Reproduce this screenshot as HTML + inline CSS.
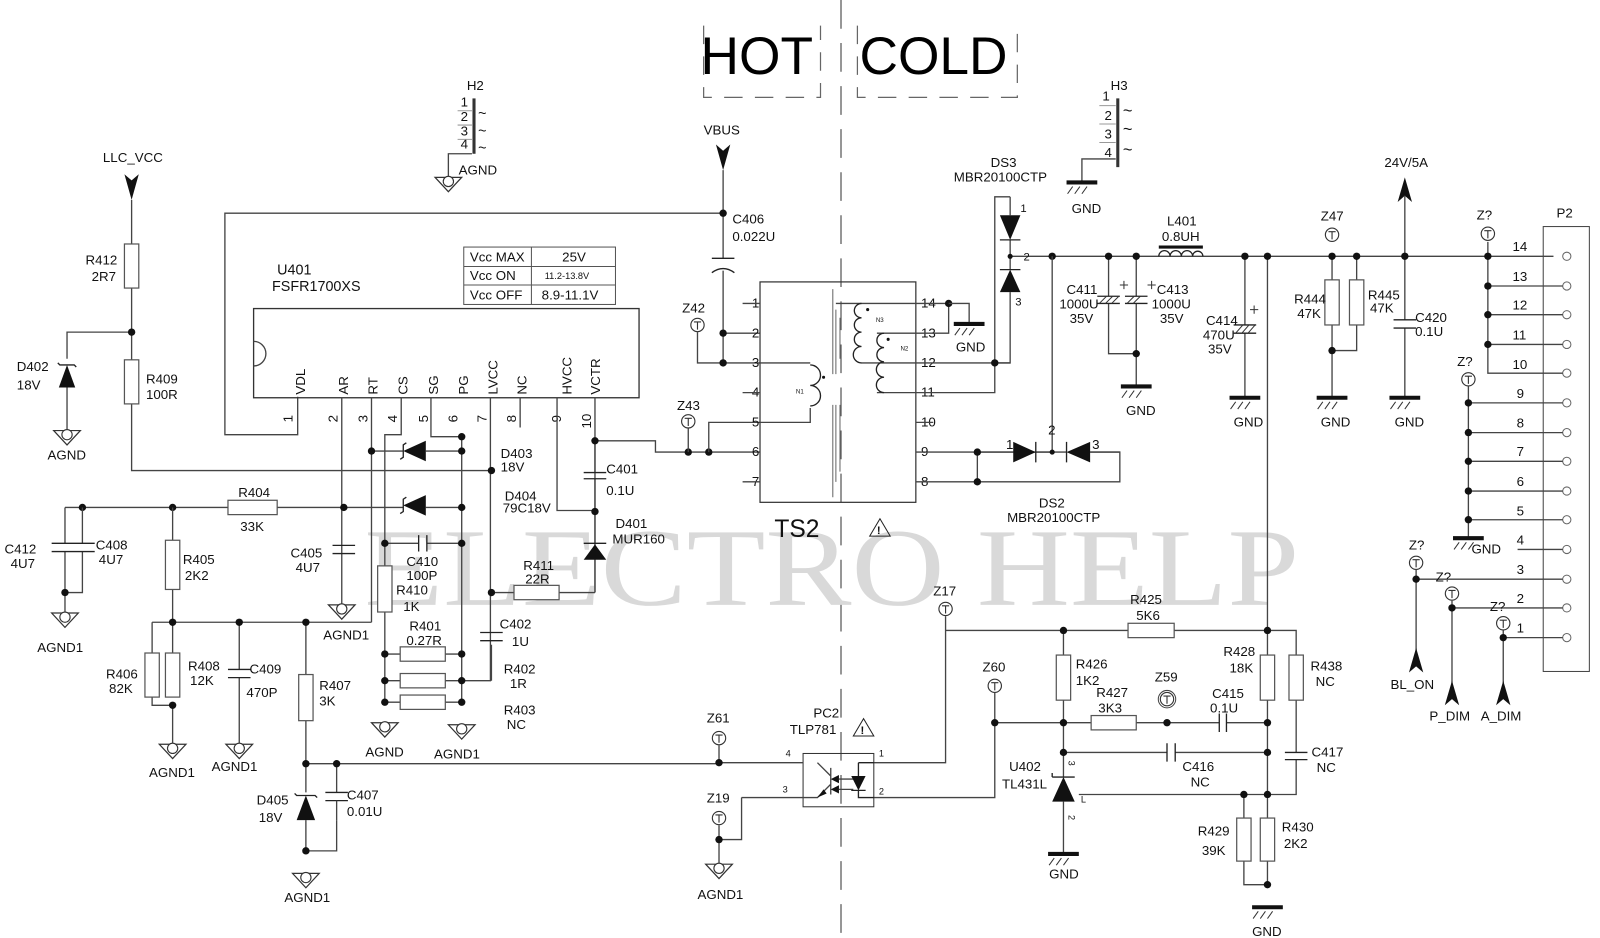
<!DOCTYPE html>
<html><head><meta charset="utf-8"><style>
html,body{margin:0;padding:0;background:#fff;}
svg{display:block;}
text{font-family:"Liberation Sans",Arial,sans-serif;font-size:13px;fill:#111;}
.w{stroke:#444;stroke-width:1.3;fill:none;}
.b{stroke:#222;stroke-width:1.3;fill:none;}
.r{stroke:#555;stroke-width:1.2;fill:#fff;}
.s{font-size:9px;}
</style></head><body>
<svg width="1600" height="938" viewBox="0 0 1560 915" xmlns="http://www.w3.org/2000/svg">
<defs>
<symbol id="gnd" overflow="visible"><line x1="-15" y1="0" x2="15" y2="0" stroke="#111" stroke-width="4"/><path d="M-9 4 L-14 11 M-2 4 L-7 11 M5 4 L0 11" stroke="#333" stroke-width="1"/></symbol>
<symbol id="agnd" overflow="visible"><path d="M-13 0 H13 L0 14 Z" stroke="#333" stroke-width="1.2" fill="#fff"/><circle cx="0" cy="4" r="5" stroke="#333" stroke-width="1.1" fill="#fff"/></symbol>
<symbol id="tp" overflow="visible"><circle cx="0" cy="0" r="6.5" stroke="#333" stroke-width="1.1" fill="#fff"/><path d="M-3.5 -3 H3.5 M0 -3 V4.5" stroke="#333" stroke-width="1.1"/></symbol>
<symbol id="d" overflow="visible"><circle r="3.6" fill="#111"/></symbol>
</defs>

<!-- HOT / COLD -->
<text x="683" y="72" style="font-size:52px;fill:#000">HOT</text>
<text x="838" y="72" style="font-size:52px;fill:#000">COLD</text>
<path d="M686 25 V95 H800 V25 M836 25 V95 H992 V25" stroke="#666" stroke-width="1.2" fill="none" stroke-dasharray="18,12"/>
<line x1="820" y1="0" x2="820" y2="915" stroke="#555" stroke-width="1.2" stroke-dasharray="28,14"/>

<!-- watermark -->
<text x="355" y="590" textLength="912" lengthAdjust="spacingAndGlyphs" style="font-family:'Liberation Serif',serif;font-size:108px;fill:#d9d9d9">ELECTRO HELP</text>

<!-- LLC_VCC -->
<text x="100" y="158">LLC_VCC</text>
<path d="M121 170 L128 176 L135 170 L128 195 Z" fill="#111"/>
<path class="w" d="M128 195 V238 M128 281 V351 M128 394 V459 H479 M128 324 H65 V350 M65 378 V420"/>
<rect class="r" x="121" y="238" width="14" height="43"/>
<rect class="r" x="121" y="351" width="14" height="43"/>
<use href="#d" x="128" y="324"/>
<text x="83" y="258">R412</text><text x="89" y="274">2R7</text>
<text x="142" y="374">R409</text><text x="142" y="389">100R</text>
<path d="M57 378 L73 378 L65 356 Z" fill="#111"/><path class="b" d="M56 354 L58 356 H72 L74 358"/>
<text x="16" y="362">D402</text><text x="16" y="380">18V</text>
<use href="#agnd" x="65" y="420"/><text x="46" y="448">AGND</text>

<!-- outer loop -->
<path class="w" d="M703 208 H219 V424 H290 V387"/>

<!-- U401 -->
<rect x="247" y="301" width="376" height="87" stroke="#333" stroke-width="1.3" fill="none"/>
<path class="w" d="M247 333 A12 12 0 0 1 247 357"/>
<text x="270" y="268" style="font-size:14px">U401</text><text x="265" y="284" style="font-size:14px">FSFR1700XS</text>
<g style="font-size:13px">
<text transform="translate(297,385) rotate(-90)">VDL</text>
<text transform="translate(339,385) rotate(-90)">AR</text>
<text transform="translate(368,385) rotate(-90)">RT</text>
<text transform="translate(397,385) rotate(-90)">CS</text>
<text transform="translate(427,385) rotate(-90)">SG</text>
<text transform="translate(456,385) rotate(-90)">PG</text>
<text transform="translate(485,385) rotate(-90)">LVCC</text>
<text transform="translate(513,385) rotate(-90)">NC</text>
<text transform="translate(557,385) rotate(-90)">HVCC</text>
<text transform="translate(585,385) rotate(-90)">VCTR</text>
<text transform="translate(285,412) rotate(-90)">1</text>
<text transform="translate(329,412) rotate(-90)">2</text>
<text transform="translate(358,412) rotate(-90)">3</text>
<text transform="translate(387,412) rotate(-90)">4</text>
<text transform="translate(417,412) rotate(-90)">5</text>
<text transform="translate(446,412) rotate(-90)">6</text>
<text transform="translate(474,412) rotate(-90)">7</text>
<text transform="translate(503,412) rotate(-90)">8</text>
<text transform="translate(547,412) rotate(-90)">9</text>
<text transform="translate(576,418) rotate(-90)">10</text>
</g>
<!-- Vcc table -->
<g>
<rect x="452" y="241" width="148" height="56" stroke="#555" fill="none"/>
<path d="M452 260 H600 M452 278 H600 M518 241 V297" stroke="#555" fill="none"/>
<text x="458" y="255">Vcc MAX</text><text x="548" y="255">25V</text>
<text x="458" y="273">Vcc  ON</text><text x="531" y="272" class="s">11.2-13.8V</text>
<text x="458" y="292">Vcc OFF</text><text x="528" y="292">8.9-11.1V</text>
</g>

<!-- pin wires -->
<path class="w" d="M333 388 V590 M362 388 V607 M391 388 V424 H375 V685 M420 388 V426 H450 V688 M478 388 V664 H450 M507 388 V417 M543 388 V498 H580 M580 388 V578"/>
<!-- left network -->
<path class="w" d="M63 495 H222 M270 495 H335 H393 M415 495 H450 M362 440 H393 M415 440 H450 M375 530 H408 M416 530 H450"/>
<path d="M393 440 L415 430 L415 450 Z" fill="#111"/><path class="b" d="M390 448 L393 446 V434 L396 432"/>
<path d="M393 493 L415 483 L415 503 Z" fill="#111"/><path class="b" d="M390 501 L393 499 V487 L396 485"/>
<path class="b" d="M408 522 V538 M416 522 V538" stroke-width="2.5"/>
<rect class="r" x="222" y="488" width="48" height="14"/>
<text x="232" y="485">R404</text><text x="234" y="518">33K</text>
<use href="#d" x="80" y="495"/><use href="#d" x="168" y="495"/><use href="#d" x="335" y="495"/><use href="#d" x="362" y="440"/><use href="#d" x="450" y="440"/><use href="#d" x="450" y="426"/><use href="#d" x="450" y="495"/><use href="#d" x="375" y="530"/><use href="#d" x="450" y="530"/><use href="#d" x="479" y="459"/>
<text x="488" y="447">D403</text><text x="488" y="460">18V</text>
<text x="492" y="488">D404</text><text x="490" y="500">79C18V</text>
<text x="396" y="552">C410</text><text x="396" y="566">100P</text>
<!-- C412/C408 -->
<path class="w" d="M63 495 V530 M63 538 V598 M80 495 V530 M80 538 V578 H63"/>
<path class="b" d="M50 530 H92 M50 538 H92" stroke-width="2.5"/>
<use href="#d" x="63" y="578"/>
<text x="4" y="540">C412</text><text x="10" y="554">4U7</text><text x="93" y="536">C408</text><text x="96" y="550">4U7</text>
<use href="#agnd" x="63" y="598"/><text x="36" y="636">AGND1</text>
<!-- C405 -->
<path class="b" d="M324 532 H346 M324 540 H346" stroke-width="2.5"/>
<text x="283" y="544">C405</text><text x="288" y="558">4U7</text>
<use href="#agnd" x="333" y="590"/><text x="315" y="624">AGND1</text>
<!-- R405 etc -->
<path class="w" d="M168 495 V527 M168 575 V680 M148 607 H362 M148 607 V637 M148 680 V688 H168 M168 688 V726 M233 607 V653 M233 661 V726 M298 607 V658 M298 703 V745 H703 M298 745 V773 M298 800 V830 H328 V800 M328 745 V773"/>
<rect class="r" x="161" y="527" width="14" height="48"/>
<rect class="r" x="141" y="637" width="14" height="43"/><rect class="r" x="161" y="637" width="14" height="43"/>
<rect class="r" x="291" y="658" width="14" height="45"/>
<path class="b" d="M222 653 H244 M222 661 H244 M317 773 H339 M317 781 H339" stroke-width="2.5"/>
<path class="w" d="M328 781 V800"/>
<use href="#d" x="168" y="607"/><use href="#d" x="233" y="607"/><use href="#d" x="298" y="607"/><use href="#d" x="168" y="688"/><use href="#d" x="298" y="745"/><use href="#d" x="328" y="745"/><use href="#d" x="298" y="830"/>
<text x="178" y="550">R405</text><text x="180" y="566">2K2</text>
<text x="103" y="662">R406</text><text x="106" y="676">82K</text>
<text x="183" y="654">R408</text><text x="185" y="668">12K</text>
<text x="243" y="657">C409</text><text x="240" y="680">470P</text>
<text x="311" y="673">R407</text><text x="311" y="688">3K</text>
<use href="#agnd" x="168" y="726"/><text x="145" y="758">AGND1</text>
<use href="#agnd" x="233" y="726"/><text x="206" y="752">AGND1</text>
<path d="M289 800 L307 800 L298 776 Z" fill="#111"/><path class="b" d="M287 774 L289 776 H307 L309 778"/>
<text x="250" y="785">D405</text><text x="252" y="802">18V</text>
<text x="338" y="780">C407</text><text x="338" y="796">0.01U</text>
<use href="#agnd" x="298" y="852"/><text x="277" y="880">AGND1</text>
<!-- R410 & R401-403 -->
<rect class="r" x="368" y="552" width="14" height="45"/>
<text x="386" y="580">R410</text><text x="393" y="596">1K</text>
<path class="w" d="M375 638 H390 M434 638 H450 M375 664 H390 M434 664 H450 M375 685 H390 M434 685 H450"/>
<rect class="r" x="390" y="631" width="44" height="14"/><rect class="r" x="390" y="657" width="44" height="14"/><rect class="r" x="390" y="678" width="44" height="14"/>
<use href="#d" x="375" y="638"/><use href="#d" x="375" y="664"/><use href="#d" x="375" y="685"/><use href="#d" x="450" y="638"/><use href="#d" x="450" y="664"/><use href="#d" x="450" y="685"/>
<text x="399" y="615">R401</text><text x="396" y="629">0.27R</text>
<text x="491" y="657">R402</text><text x="497" y="671">1R</text><text x="491" y="697">R403</text><text x="494" y="711">NC</text>
<use href="#agnd" x="375" y="705"/><text x="356" y="738">AGND</text>
<use href="#agnd" x="450" y="707"/><text x="423" y="740">AGND1</text>
<!-- R411, C402 -->
<path class="w" d="M479 578 H501 M545 578 H580 M479 629 V664"/>
<rect class="r" x="501" y="571" width="44" height="14"/>
<path class="b" d="M468 617 H490 M468 625 H490" stroke-width="2.5"/>
<use href="#d" x="479" y="578"/>
<text x="510" y="556">R411</text><text x="512" y="569">22R</text>
<text x="487" y="613">C402</text><text x="499" y="630">1U</text>
<!-- C401, D401 -->
<path class="w" d="M580 430 V461 M580 467 V531 M580 546 V578 M580 430 H639 V441 H741"/>
<path class="b" d="M569 461 H591 M569 467 H591" stroke-width="2.5"/>
<path d="M569 546 L591 546 L580 531 Z" fill="#111"/><path class="b" d="M569 530 H591"/>
<use href="#d" x="580" y="430"/><use href="#d" x="580" y="499"/><use href="#d" x="671" y="441"/><use href="#d" x="691" y="441"/>
<text x="591" y="462">C401</text><text x="591" y="483">0.1U</text>
<text x="600" y="515">D401</text><text x="597" y="530">MUR160</text>
<use href="#tp" x="671" y="411"/><text x="660" y="400">Z43</text>
<path class="w" d="M671 418 V441 M691 441 V412 H741"/>

<!-- VBUS & C406 -->
<text x="686" y="131">VBUS</text>
<path d="M698 141 L705 147 L712 141 L705 166 Z" fill="#111"/>
<path class="w" d="M705 166 V252 M705 264 V354 H741 M705 325 H741 M680 324 V354 H705"/>
<path class="b" d="M694 252 H716" stroke-width="2.5"/><path class="b" d="M694 266 Q705 258 716 266" stroke-width="2.5"/>
<use href="#d" x="705" y="208"/><use href="#d" x="705" y="325"/><use href="#d" x="705" y="354"/>
<text x="714" y="218">C406</text><text x="714" y="235">0.022U</text>
<use href="#tp" x="680" y="317"/><text x="665" y="305">Z42</text>

<!-- H2 -->
<text x="455" y="88">H2</text>
<line x1="462" y1="96" x2="462" y2="150" stroke="#333" stroke-width="3"/>
<g class="s"><text x="449" y="104">1</text><text x="449" y="118">2</text><text x="449" y="132">3</text><text x="449" y="145">4</text></g>
<path d="M446 108 H460 M446 122 H460 M446 136 H460" stroke="#999"/>
<text x="466" y="115" style="font-size:14px">~</text><text x="466" y="132" style="font-size:14px">~</text><text x="466" y="149" style="font-size:14px">~</text>
<path class="w" d="M460 150 H437 V173"/><use href="#agnd" x="437" y="173"/><text x="447" y="170">AGND</text>
<!-- H3 -->
<text x="1083" y="88">H3</text><text x="1075" y="98">1</text>
<line x1="1090" y1="96" x2="1090" y2="163" stroke="#333" stroke-width="3"/>
<g style="font-size:12px"><text x="1077" y="117">2</text><text x="1077" y="135">3</text><text x="1077" y="153">4</text></g>
<path d="M1072 103 H1088 M1072 121 H1088 M1072 139 H1088" stroke="#999"/>
<text x="1095" y="113" style="font-size:16px">~</text><text x="1095" y="131" style="font-size:16px">~</text><text x="1095" y="151" style="font-size:16px">~</text>
<path class="w" d="M1088 155 H1055 V178"/><use href="#gnd" x="1055" y="178"/><text x="1045" y="208">GND</text>

<!-- TS2 -->
<rect x="741" y="275" width="152" height="215" stroke="#333" stroke-width="1.2" fill="none"/>
<g class="s">
<text x="733" y="300">1</text><text x="733" y="329">2</text><text x="733" y="358">3</text><text x="733" y="387">4</text><text x="733" y="416">5</text><text x="733" y="445">6</text><text x="733" y="474">7</text>
<text x="898" y="300">14</text><text x="898" y="329">13</text><text x="898" y="358">12</text><text x="898" y="387">11</text><text x="898" y="416">10</text><text x="898" y="445">9</text><text x="898" y="474">8</text>
</g>
<path class="w" d="M724 296 H741 M724 383 H741 M724 470 H741 M893 412 H910 M893 296 H925 M893 325 H925 V296 M893 354 H985 M893 383 H970 V192 H985 M893 441 H1026 M893 470 H1092 V441 H1063"/>
<path class="w" d="M741 354 H790 M741 412 H790 V398"/>
<path class="b" d="M790 356 A9 9 0 0 1 790 376 A9 9 0 0 1 790 396"/>
<text x="776" y="384" style="font-size:6px">N1</text>
<path class="w" d="M815 296 H893 M840 354 H893 M855 325 H893 M855 383 H893"/>
<path class="b" d="M840 296 A7 7 0 0 0 840 310 A7 7 0 0 0 840 324 A7 7 0 0 0 840 338 A7 7 0 0 0 840 354"/>
<path class="b" d="M862 325 A7 7 0 0 0 862 339 A7 7 0 0 0 862 353 A7 7 0 0 0 862 368 A7 7 0 0 0 862 383"/>
<text x="854" y="314" style="font-size:6px">N3</text><text x="878" y="342" style="font-size:6px">N2</text>
<path d="M812 282 V365 M815 302 V365 M812 395 V485 M815 395 V470 M819 395 V460 M819 310 V350" stroke="#666" stroke-width="1"/>
<circle cx="803" cy="368" r="1.5" fill="#111"/><circle cx="846" cy="302" r="1.5" fill="#111"/><circle cx="866" cy="331" r="1.5" fill="#111"/>
<text x="755" y="524" style="font-size:24px">TS2</text>
<path d="M848 523 L858 506 L868 523 Z" stroke="#222" fill="none"/><text x="855" y="521" style="font-size:11px;font-weight:bold">!</text>
<use href="#d" x="925" y="296"/><path class="w" d="M925 296 H945 V316"/><use href="#gnd" x="945" y="316"/><text x="932" y="343">GND</text>

<!-- DS3 -->
<text x="966" y="163">DS3</text><text x="930" y="177">MBR20100CTP</text>
<path class="w" d="M985 192 V210 M985 234 V263 M985 285 V354 H970 M985 250 H1515"/>
<path d="M975 210 H995 L985 234 Z" fill="#111"/><path class="b" d="M975 234 H995 M975 263 H995"/>
<path d="M975 285 H995 L985 263 Z" fill="#111"/>
<circle cx="985" cy="250" r="2.5" fill="#111"/>
<text x="995" y="207" style="font-size:11px">1</text><text x="998" y="254" style="font-size:11px">2</text><text x="990" y="298" style="font-size:11px">3</text>
<use href="#d" x="970" y="354"/><use href="#d" x="1026" y="250"/>
<!-- DS2 -->
<path class="w" d="M1026 250 V441 M953 441 V470 M953 441 H988 M1010 441 H1040 M1063 441 H1092"/>
<path d="M988 431 V451 L1010 441 Z" fill="#111"/><path class="b" d="M1010 431 V451 M1040 431 V451"/>
<path d="M1063 431 V451 L1040 441 Z" fill="#111"/>
<circle cx="1026" cy="441" r="2.5" fill="#111"/>
<use href="#d" x="953" y="441"/><use href="#d" x="953" y="470"/>
<text x="981" y="438">1</text><text x="1022" y="424">2</text><text x="1065" y="438">3</text>
<text x="1013" y="495">DS2</text><text x="982" y="509">MBR20100CTP</text>
<!-- C411/C413 -->
<path class="w" d="M1081 250 V289 M1081 296 V345 H1108 M1108 250 V289 M1108 296 V377"/>
<path class="b" d="M1070 289 H1092 M1097 289 H1119"/><path class="b" d="M1070 296 H1092 M1097 296 H1119" stroke-width="2"/>
<path d="M1072 296 L1079 289 M1078 296 L1085 289 M1084 296 L1091 289 M1099 296 L1106 289 M1105 296 L1112 289" stroke="#333"/>
<path d="M1092 278 H1100 M1096 274 V282 M1119 278 H1127 M1123 274 V282" stroke="#333"/>
<use href="#d" x="1081" y="250"/><use href="#d" x="1108" y="250"/><use href="#d" x="1108" y="345"/>
<use href="#gnd" x="1108" y="377"/><text x="1098" y="405">GND</text>
<text x="1040" y="287">C411</text><text x="1033" y="301">1000U</text><text x="1043" y="315">35V</text>
<text x="1128" y="287">C413</text><text x="1123" y="301">1000U</text><text x="1131" y="315">35V</text>
<!-- L401 -->
<path class="b" d="M1130 250 A5 5 0 0 1 1141 250 A5 5 0 0 1 1152 250 A5 5 0 0 1 1163 250 A5 5 0 0 1 1173 250"/>
<line x1="1130" y1="241" x2="1173" y2="241" stroke="#111" stroke-width="3"/>
<text x="1138" y="220">L401</text><text x="1133" y="235">0.8UH</text>
<!-- C414 -->
<path class="w" d="M1214 250 V317 M1214 325 V388 M1236 250 V863"/>
<path class="b" d="M1203 317 H1225 M1203 325 H1225"/>
<path d="M1205 325 L1212 317 M1211 325 L1218 317 M1217 325 L1224 317" stroke="#333"/>
<path d="M1219 302 H1227 M1223 298 V306" stroke="#333"/>
<use href="#d" x="1214" y="250"/><use href="#d" x="1236" y="250"/>
<use href="#gnd" x="1214" y="388"/><text x="1203" y="416">GND</text>
<text x="1176" y="317">C414</text><text x="1173" y="331">470U</text><text x="1178" y="345">35V</text>
<!-- R444/R445 -->
<path class="w" d="M1299 250 V273 M1299 317 V388 M1323 250 V273 M1323 317 V342 H1299"/>
<rect class="r" x="1292" y="273" width="14" height="44"/><rect class="r" x="1316" y="273" width="14" height="44"/>
<use href="#d" x="1299" y="250"/><use href="#d" x="1323" y="250"/><use href="#d" x="1299" y="342"/>
<use href="#tp" x="1299" y="229"/><text x="1288" y="215">Z47</text>
<text x="1262" y="296">R444</text><text x="1265" y="310">47K</text><text x="1334" y="292">R445</text><text x="1336" y="305">47K</text>
<use href="#gnd" x="1299" y="388"/><text x="1288" y="416">GND</text>
<!-- 24V -->
<text x="1350" y="163">24V/5A</text>
<path d="M1363 197 L1370 173 L1377 197 L1370 191 Z" fill="#111"/>
<path class="w" d="M1370 191 V312 M1370 320 V388"/>
<path class="b" d="M1359 312 H1381 M1359 320 H1381" stroke-width="2.5"/>
<use href="#d" x="1370" y="250"/>
<text x="1380" y="314">C420</text><text x="1380" y="328">0.1U</text>
<use href="#gnd" x="1370" y="388"/><text x="1360" y="416">GND</text>

<!-- P2 -->
<rect x="1505" y="221" width="45" height="434" stroke="#444" fill="none"/>
<text x="1518" y="212">P2</text>
<g style="font-size:12px">
<text x="1475" y="245">14</text><text x="1475" y="274">13</text><text x="1475" y="302">12</text><text x="1475" y="331">11</text><text x="1475" y="360">10</text>
<text x="1479" y="388">9</text><text x="1479" y="417">8</text><text x="1479" y="445">7</text><text x="1479" y="474">6</text><text x="1479" y="503">5</text><text x="1479" y="531">4</text><text x="1479" y="560">3</text><text x="1479" y="588">2</text><text x="1479" y="617">1</text>
</g>
<g stroke="#666" fill="#fff">
<circle cx="1528" cy="250" r="4"/><circle cx="1528" cy="279" r="4"/><circle cx="1528" cy="307" r="4"/><circle cx="1528" cy="336" r="4"/><circle cx="1528" cy="364" r="4"/><circle cx="1528" cy="393" r="4"/><circle cx="1528" cy="422" r="4"/><circle cx="1528" cy="450" r="4"/><circle cx="1528" cy="479" r="4"/><circle cx="1528" cy="507" r="4"/><circle cx="1528" cy="536" r="4"/><circle cx="1528" cy="565" r="4"/><circle cx="1528" cy="593" r="4"/><circle cx="1528" cy="622" r="4"/>
</g>
<path class="w" d="M1451 279 H1524 M1451 307 H1524 M1451 336 H1524 M1451 250 V364 H1524 M1432 393 H1524 M1432 422 H1524 M1432 450 H1524 M1432 479 H1524 M1432 507 H1524 M1432 377 V525 M1480 536 H1524 M1381 565 H1524 M1416 593 H1524 M1466 622 H1524 M1451 236 V250"/>
<use href="#tp" x="1451" y="228"/><text x="1440" y="214">Z?</text>
<use href="#d" x="1451" y="250"/><use href="#d" x="1451" y="279"/><use href="#d" x="1451" y="307"/><use href="#d" x="1451" y="336"/>
<use href="#tp" x="1432" y="370"/><text x="1421" y="357">Z?</text>
<use href="#d" x="1432" y="393"/><use href="#d" x="1432" y="422"/><use href="#d" x="1432" y="450"/><use href="#d" x="1432" y="479"/><use href="#d" x="1432" y="507"/>
<use href="#gnd" x="1432" y="525"/><text x="1435" y="540">GND</text>
<!-- BL_ON etc -->
<path class="w" d="M1381 556 V640 M1416 586 V680 M1466 615 V680"/>
<use href="#tp" x="1381" y="549"/><text x="1374" y="536">Z?</text>
<use href="#tp" x="1416" y="579"/><text x="1400" y="567">Z?</text>
<use href="#tp" x="1466" y="608"/><text x="1453" y="596">Z?</text>
<use href="#d" x="1381" y="565"/><use href="#d" x="1416" y="593"/><use href="#d" x="1466" y="622"/>
<path d="M1374 656 L1381 632 L1388 656 L1381 650 Z" fill="#111"/>
<path d="M1409 688 L1416 664 L1423 688 L1416 682 Z" fill="#111"/>
<path d="M1459 688 L1466 664 L1473 688 L1466 682 Z" fill="#111"/>
<text x="1356" y="672">BL_ON</text><text x="1394" y="703">P_DIM</text><text x="1444" y="703">A_DIM</text>

<!-- feedback -->
<use href="#tp" x="922" y="594"/><text x="910" y="581">Z17</text>
<path class="w" d="M922 601 V744 H852 M922 615 H1100 M1145 615 H1264 V639 M1037 615 V639 M1037 683 V758 M1037 782 V833 M970 676 V778 H852 M970 705 H1064 M1108 705 H1189 M1196 705 H1236 M1037 734 H1138 M1146 734 H1236 M1264 683 V734 M1264 741 V775 H1052 M1213 775 V798 M1213 840 V863 H1236"/>
<rect class="r" x="1100" y="608" width="45" height="14"/>
<text x="1102" y="589">R425</text><text x="1108" y="605">5K6</text>
<rect class="r" x="1030" y="639" width="14" height="44"/>
<text x="1049" y="652">R426</text><text x="1049" y="668">1K2</text>
<rect class="r" x="1064" y="698" width="44" height="14"/>
<text x="1069" y="680">R427</text><text x="1071" y="695">3K3</text>
<circle cx="1138" cy="682" r="8.5" stroke="#444" fill="#fff"/><use href="#tp" x="1138" y="682"/><text x="1126" y="665">Z59</text>
<path class="b" d="M1189 696 V714 M1196 696 V714 M1138 725 V743 M1146 725 V743" stroke-width="2.5"/>
<text x="1182" y="681">C415</text><text x="1180" y="695">0.1U</text>
<text x="1153" y="752">C416</text><text x="1161" y="767">NC</text>
<rect class="r" x="1229" y="639" width="14" height="44"/><rect class="r" x="1257" y="639" width="14" height="44"/>
<text x="1193" y="640">R428</text><text x="1199" y="656">18K</text>
<text x="1278" y="654">R438</text><text x="1283" y="669">NC</text>
<path class="b" d="M1253 734 H1275 M1253 741 H1275" stroke-width="2.5"/>
<text x="1279" y="738">C417</text><text x="1284" y="753">NC</text>
<rect class="r" x="1206" y="798" width="14" height="42"/><rect class="r" x="1229" y="798" width="14" height="42"/>
<text x="1168" y="815">R429</text><text x="1172" y="834">39K</text><text x="1250" y="811">R430</text><text x="1252" y="827">2K2</text>
<use href="#d" x="1037" y="615"/><use href="#d" x="1236" y="615"/><use href="#d" x="970" y="705"/><use href="#d" x="1037" y="705"/><use href="#d" x="1138" y="705"/><use href="#d" x="1236" y="705"/><use href="#d" x="1037" y="734"/><use href="#d" x="1236" y="734"/><use href="#d" x="1213" y="775"/><use href="#d" x="1236" y="775"/><use href="#d" x="1236" y="863"/>
<use href="#tp" x="970" y="669"/><text x="958" y="655">Z60</text>
<path d="M1026 782 H1048 L1037 758 Z" fill="#111"/><path class="b" d="M1026 758 H1048 M1026 758 V754"/>
<text transform="translate(1042,742) rotate(90)" class="s">3</text><text transform="translate(1042,795) rotate(90)" class="s">2</text><text x="1054" y="783" class="s">L</text>
<text x="984" y="752">U402</text><text x="977" y="769">TL431L</text>
<use href="#gnd" x="1037" y="833"/><text x="1023" y="857">GND</text>
<use href="#gnd" x="1236" y="885"/><text x="1221" y="913">GND</text>
<!-- PC2 -->
<rect x="783" y="735" width="69" height="52" stroke="#333" fill="none"/>
<path class="w" d="M703 744 H783 M797 744 L810 757 M810 749 V775 M810 765 L797 778 H783 M723 778 H783 M723 778 V819 H703"/>
<path d="M797 778 L803 770 L806 774 Z" fill="#111"/>
<path d="M810 760 L818 756 V764 Z M810 770 L818 766 V774 Z" fill="#111"/><path class="w" d="M818 760 H832 M818 770 H832"/>
<path d="M830 757 H844 L837 771 Z" fill="#111"/><path class="b" d="M830 771 H844 M837 744 H852 M837 744 V757 M837 771 V778 H852"/>
<text x="766" y="738" class="s">4</text><text x="763" y="773" class="s">3</text><text x="857" y="738" class="s">1</text><text x="857" y="775" class="s">2</text>
<text x="793" y="700">PC2</text><text x="770" y="716">TLP781</text>
<path d="M832 718 L842 701 L852 718 Z" stroke="#222" fill="none"/><text x="839" y="716" style="font-size:11px;font-weight:bold">!</text>
<use href="#tp" x="701" y="720"/><text x="689" y="705">Z61</text>
<path class="w" d="M701 727 V744 M701 805 V843"/><use href="#d" x="701" y="744"/>
<use href="#tp" x="701" y="798"/><text x="689" y="783">Z19</text><use href="#d" x="701" y="819"/>
<use href="#agnd" x="701" y="843"/><text x="680" y="877">AGND1</text>
</svg>
</body></html>
